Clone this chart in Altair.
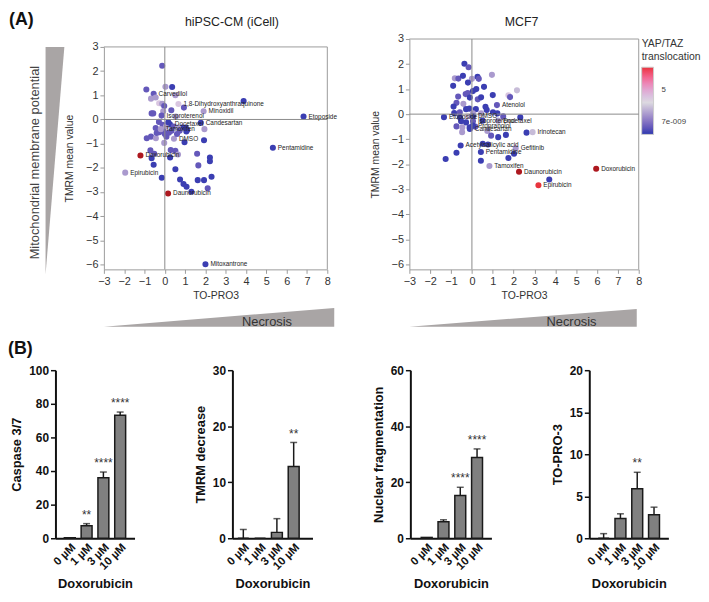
import altair as alt
import pandas as pd

FONT = "Liberation Sans"

# ---------------- (A) scatter data ----------------
# hiPSC-CM (iCell): TO-PRO3 (x), TMRM mean value (y), YAP/TAZ translocation (colour)
icell_topro = [-0.13, 0.03, 0.36, -0.91, -0.55, -0.68, -0.45, 0.52, -0.28, -0.13,
               0.67, 0.94, 3.88, -0.03, 0.32, -0.08, 1.91, -0.65, -0.57, -0.16,
               0.54, 6.83, 1.77, 0.25, 0.86, 1.95, -0.89, -0.68, -0.44, -0.40,
               0.00, 0.45, -0.03, 0.97, 1.93, -0.71, -0.65, -0.52, -1.20, 0.26,
               0.52, 0.65, 0.29, 1.59, 2.22, 2.22, -0.55, 1.65, -1.95, 0.52,
               -0.15, 0.75, 0.92, 1.07, 1.62, 1.93, 2.30, 2.11, 1.31, 0.16,
               5.32, 2.00, -0.29, -0.11, 0.05, 0.44, 0.65, 1.03, 1.10, -0.05,
               -0.27, 0.08, 1.06, 0.73, 0.33, 0.17, -0.45, 0.60, -0.20, 0.20]
icell_tmrm = [2.22, 1.35, 1.34, 1.24, 1.06, 0.86, 0.91, 1.00, 0.67, 0.65,
              0.64, 0.49, 0.76, 0.56, 0.38, 0.34, 0.34, 0.25, 0.25, 0.16,
              0.12, 0.12, -0.14, -0.20, -0.33, -0.40, -0.78, -0.71, -0.78, -0.56,
              -0.60, -0.80, -0.97, -0.94, -0.86, -1.28, -1.60, -1.42, -1.49, -1.57,
              -1.30, -1.45, -1.26, -1.42, -1.57, -1.73, -1.87, -1.90, -2.20, -2.06,
              -2.41, -2.48, -2.67, -2.78, -2.51, -2.51, -2.37, -2.85, -2.99, -3.06,
              -1.17, -5.99, -0.10, -0.22, -0.29, -0.29, -0.33, -0.33, -0.44, -0.50,
              -0.53, -0.71, -0.50, -0.47, -0.47, -0.12, -0.35, -0.60, -0.40, -0.55]
icell_yap = [-0.9, 1.2, -1.8, -0.9, -0.9, 1.2, 1.2, 1.2, 3.8, 1.2,
             3.8, -0.9, -1.8, -0.9, -0.9, 1.2, 1.2, -0.9, -0.9, -0.9,
             1.2, -1.8, -1.8, -1.8, -1.8, 1.2, -0.9, -0.9, 1.2, -0.9,
             -0.9, 1.2, 1.2, -1.8, -1.8, -0.9, -1.8, -0.9, 11.5, -1.8,
             -0.9, 1.2, -0.9, -0.9, -1.8, -1.8, -1.8, -0.9, 1.2, -1.8,
             -1.8, -1.8, -1.8, -1.8, -1.8, -1.8, -1.8, -0.9, -1.8, 11.5,
             -1.8, -1.8, -0.9, -0.9, 1.2, -0.9, 1.2, -1.8, -1.8, -0.9,
             -0.9, -0.9, -1.8, -0.9, -0.9, -1.8, -0.9, -0.9, 1.2, -0.9]
icell_name = ["", "", "", "", "Carvedilol", "", "", "", "", "",
              "1,8-Dihydroxyanthraquinone", "", "", "", "", "", "Minoxidil", "", "", "Isoproterenol",
              "", "Etoposide", "Candesartan", "Docetaxel", "", "", "", "", "", "",
              "", "DMSO", "", "", "", "", "", "", "Doxorubicin", "",
              "", "", "", "", "", "", "", "", "Epirubicin", "",
              "", "", "", "", "", "", "", "", "", "Daunorubicin",
              "Pentamidine", "Mitoxantrone", "", "", "", "", "", "", "", "",
              "", "", "", "", "", "", "", "", "Tamoxifen", ""]

# MCF7
mcf7_topro = [-0.36, -0.16, -0.82, -0.65, -0.43, 0.00, 0.27, 0.33, 0.96, -0.19,
              -0.90, -0.30, -0.20, 0.05, 0.21, 0.58, -0.66, -0.10, 0.28, 0.44,
              1.00, 1.75, 1.83, 2.16, -0.74, -0.41, -0.88, -0.28, -0.12, 0.19,
              0.65, 0.71, 1.20, -0.85, -0.58, 0.05, 0.44, 1.01, 1.22, -1.34,
              -0.57, -0.21, 0.05, 0.51, 1.26, 1.50, 2.32, -0.52, -0.28, -0.74,
              -0.46, -0.11, -0.47, 0.16, 0.74, 0.92, 1.26, 1.63, 2.62, 2.91,
              -0.54, 0.52, 0.77, -0.74, 0.43, 2.10, 2.02, 1.75, -1.26, 0.43,
              0.84, 2.26, 3.71, 3.19, 5.96, 0.05, -0.10, 0.05]
mcf7_tmrm = [2.01, 1.87, 1.43, 1.42, 1.53, 1.41, 1.49, 1.41, 1.57, 1.26,
             1.13, 0.80, 0.84, 0.92, 1.00, 1.09, 0.70, 0.66, 0.59, 0.67,
             0.76, 0.75, 0.68, 0.95, 0.45, 0.41, 0.30, 0.20, 0.22, 0.20,
             0.29, 0.17, 0.36, 0.04, 0.07, 0.03, 0.03, 0.07, 0.03, -0.12,
             -0.13, -0.09, -0.09, -0.26, -0.26, -0.09, -0.13, -0.28, -0.33, -0.49,
             -0.53, -0.53, -0.72, -0.50, -0.67, -0.86, -0.92, -0.83, -0.74, -0.72,
             -1.25, -1.18, -1.21, -1.54, -1.51, -1.36, -1.58, -1.75, -1.79, -1.86,
             -2.07, -2.30, -2.61, -2.84, -2.18, -0.28, -0.59, -0.46]
mcf7_yap = [-1.8, -0.9, 1.2, -0.9, -1.8, 1.2, -1.8, -0.9, 1.2, -1.8,
            -1.8, -0.9, -0.9, -1.8, -1.8, -1.8, -0.9, -1.8, -0.9, -1.8,
            -1.8, 3.8, -0.9, 2.2, -0.9, 1.2, -1.8, -1.8, -1.8, -1.8,
            -1.8, -1.8, -0.9, -1.8, -0.9, 1.2, 1.2, -1.8, -1.8, -1.8,
            -1.8, 3.8, -1.8, -1.8, 1.2, -0.9, -1.8, -1.8, -1.8, -0.9,
            1.2, -1.8, 1.2, -0.9, 1.2, -0.9, -1.8, -1.8, -1.8, 2.2,
            -1.8, -1.8, -1.8, -1.8, -1.8, 1.2, -1.8, -1.8, -1.8, -1.8,
            1.2, 11.5, -1.8, 8.6, 11.5, -0.9, -1.8, -1.8]
mcf7_name = ["", "", "", "", "", "", "", "", "", "",
             "", "", "", "", "", "", "", "", "", "",
             "", "", "", "", "", "", "", "", "", "",
             "", "", "Atenolol", "", "", "", "", "", "", "Etoposide",
             "", "", "DMSO", "", "Docetaxel", "", "", "", "", "",
             "", "", "", "", "", "", "", "", "", "Irinotecan",
             "Acetylsalicylic acid", "", "", "", "Pentamidine", "Gefitinib", "", "", "", "",
             "Tamoxifen", "Daunorubicin", "", "Epirubicin", "Doxorubicin", "Isoproterenol", "Candesartan", "Propranolol"]

# colour scale of the YAP/TAZ translocation legend
yap_domain = [-2.03, 3.0, 8.6]
yap_range = ["#2c38b0", "#dcd9e0", "#e8343d"]
yap_high_domain = [8.6, 12.0]
yap_high_range = ["#e8343d", "#a3121a"]

# ---------------- (B) bar data ----------------
doses = ["0 µM", "1 µM", "3 µM", "10 µM"]
caspase_mean = [0.3, 7.4, 36.0, 73.2]
caspase_err = [0.0, 1.3, 3.4, 1.9]
caspase_sig = ["", "**", "****", "****"]
tmrm_mean = [0.0, 0.0, 1.05, 12.8]
tmrm_err = [1.57, 0.0, 2.45, 4.3]
tmrm_sig = ["", "", "", "**"]
nuc_mean = [0.3, 5.9, 15.3, 28.8]
nuc_err = [0.0, 0.7, 2.9, 3.1]
nuc_sig = ["", "", "****", "****"]
topro_mean = [0.0, 2.36, 5.9, 2.8]
topro_err = [0.55, 0.55, 1.95, 0.9]
topro_sig = ["", "", "**", ""]

ramp = [0.0, 1.0]          # wedge ramps (0 = low, 1 = high)
WEDGE = "#a9a5a5"
FRAME = "#9b9b9b"
BAR_H = 170
NO_VIEW = alt.ViewBackground(strokeOpacity=0, fillOpacity=0)


def text_at(s, x, y, size, weight="normal", color="#222", align="left", baseline="alphabetic", angle=0):
    return alt.Chart(pd.DataFrame({"s": [s]})).mark_text(
        align=align, baseline=baseline, font=FONT, fontSize=size, fontWeight=weight,
        color=color, angle=angle).encode(x=alt.value(x), y=alt.value(y), text="s:N")


def scatter_core(xs, ys, yaps, names, height, y_top, legend):
    df = pd.DataFrame({"x": xs, "y": ys, "yap": yaps, "name": names})
    ax = dict(grid=False, domainColor=FRAME, tickColor=FRAME, tickSize=4,
              labelFont=FONT, labelFontSize=11, labelColor="#333", labelPadding=2,
              titleFont=FONT, titleFontSize=10.5, titleFontWeight="normal", titleColor="#333",
              labelFlush=False, labelOverlap=False)
    xv = list(range(-3, 9))
    yv = list(range(-6, 4))
    X = alt.X("x:Q", scale=alt.Scale(domain=[-3, 8], nice=False), title="TO-PRO3",
              axis=alt.Axis(values=xv, tickCount=len(xv), titlePadding=4, **ax))
    Y = alt.Y("y:Q", scale=alt.Scale(domain=[-6.2, 3], nice=False, range=[height, y_top]),
              title="TMRM mean value",
              axis=alt.Axis(values=yv, tickCount=len(yv), titlePadding=11, **ax))
    base = alt.Chart(df)
    if legend:
        leg = alt.Legend(title=["YAP/TAZ", "translocation"], values=[0, 5],
                         labelExpr="datum.value == 0 ? '7e-009' : '5'",
                         gradientLength=68, gradientThickness=12, offset=3, padding=0,
                         titleFont=FONT, titleFontSize=10.5, titleFontWeight="normal",
                         titleColor="#333", titleLineHeight=13, titlePadding=5,
                         labelFont=FONT, labelFontSize=8, labelColor="#444", labelOffset=8,
                         gradientStrokeColor="#cccccc", gradientStrokeWidth=1)
    else:
        leg = None
    pts = base.transform_filter("datum.yap <= 8.6").mark_circle(size=38, opacity=1).encode(
        x=X, y=Y,
        color=alt.Color("yap:Q", scale=alt.Scale(domain=yap_domain, range=yap_range, clamp=True), legend=leg))
    pts_hi = base.transform_filter("datum.yap > 8.6").mark_circle(size=38, opacity=1).encode(
        x=X, y=Y,
        color=alt.Color("yap:Q", scale=alt.Scale(domain=yap_high_domain, range=yap_high_range, clamp=True),
                        legend=None))
    one = alt.Chart(pd.DataFrame({"k": [0]}))
    frame_top = one.mark_rule(color=FRAME, strokeWidth=1).encode(x=alt.datum(-3), x2=alt.datum(8), y=alt.datum(3))
    frame_right = one.mark_rule(color=FRAME, strokeWidth=1).encode(x=alt.datum(8), y=alt.datum(-6.2), y2=alt.datum(3))
    vline = one.mark_rule(color="#8a8a8a", strokeWidth=1).encode(x=alt.datum(0), y=alt.datum(-6.2), y2=alt.datum(3))
    hline = one.mark_rule(color="#8a8a8a", strokeWidth=1).encode(y=alt.datum(0), x=alt.datum(-3), x2=alt.datum(8))
    txt = base.transform_filter("datum.name != ''").mark_text(
        align="left", baseline="middle", dx=5, font=FONT, fontSize=6.5, color="#222").encode(
        x=X, y=Y, text="name:N")
    return alt.layer(pts, pts_hi, frame_top, frame_right, vline, hline, txt).resolve_scale(color="independent")


def hwedge(x_range, y_range):
    sc_x = alt.Scale(domain=[0, 1], range=x_range, nice=False)
    sc_y = alt.Scale(domain=[0, 1], range=y_range, nice=False)
    return alt.Chart(pd.DataFrame({"t": ramp})).mark_area(color=WEDGE, opacity=1).encode(
        x=alt.X("t:Q", scale=sc_x, axis=None),
        y=alt.Y("t:Q", scale=sc_y, axis=None),
        y2=alt.datum(0))


def vwedge(x_range, y_range):
    sc_x = alt.Scale(domain=[0, 1], range=x_range, nice=False)
    sc_y = alt.Scale(domain=[0, 1], range=y_range, nice=False)
    return alt.Chart(pd.DataFrame({"t": ramp})).mark_area(color=WEDGE, opacity=1, orient="horizontal").encode(
        y=alt.Y("t:Q", scale=sc_y, axis=None),
        x=alt.X("t:Q", scale=sc_x, axis=None),
        x2=alt.datum(0))


# ---- left decoration: panel letter, vertical wedge and its caption
deco = alt.layer(
    vwedge([-10, 9], [238, 8]),
    text_at("(A)", -47, -14, 18, weight="bold", color="#111"),
    text_at("Mitochondrial membrane potential", -20.5, 125, 13, color="#444",
            align="center", baseline="middle", angle=270),
).properties(width=9, height=233, view=NO_VIEW)

# ---- block 1: hiPSC-CM (iCell)
core1 = alt.layer(
    scatter_core(icell_topro, icell_tmrm, icell_yap, icell_name, 233, 8, False),
    text_at("hiPSC-CM (iCell)", 129.5, -13, 12.5, align="center"),
    text_at("Necrosis", 165, 290, 13, color="#333", align="center"),
).resolve_scale(color="independent")
block1 = alt.layer(
    hwedge([0, 233], [291, 272]),
    core1,
).resolve_scale(x="independent", y="independent", color="independent").properties(
    width=226, height=233, view=NO_VIEW)

# ---- block 2: MCF7
core2 = alt.layer(
    scatter_core(mcf7_topro, mcf7_tmrm, mcf7_yap, mcf7_name, 233, 0, True),
    text_at("MCF7", 113.5, -13, 12.5, align="center"),
    text_at("Necrosis", 164, 290, 13, color="#333", align="center"),
).resolve_scale(color="independent")
block2 = alt.layer(
    hwedge([0, 230], [291, 273]),
    core2,
).resolve_scale(x="independent", y="independent", color="independent").properties(
    width=232, height=233, view=NO_VIEW)


def bar_panel(title, mean, err, sig, ymax, yvals, width, pad_outer, band_align, letter=None):
    df = pd.DataFrame({"dose": doses, "mean": mean, "err": err,
                       "top": [m + e for m, e in zip(mean, err)], "sig": sig})
    X = alt.X("dose:N", sort=doses, title="Doxorubicin",
              scale=alt.Scale(paddingInner=0.35, paddingOuter=pad_outer, align=band_align),
              axis=alt.Axis(labelAngle=-45, ticks=False, domainWidth=2, domainColor="#111",
                            labelFont=FONT, labelFontSize=11.5, labelFontWeight="bold",
                            labelColor="#111", labelPadding=3,
                            titleFont=FONT, titleFontSize=13, titleFontWeight="bold",
                            titleColor="#111", titlePadding=6))
    Y = alt.Y("mean:Q", scale=alt.Scale(domain=[0, ymax], nice=False), title=title,
              axis=alt.Axis(values=yvals, tickCount=len(yvals), grid=False, domainWidth=2,
                            domainColor="#111", tickColor="#111", tickWidth=1.5, tickSize=5,
                            labelOverlap=False,
                            labelFont=FONT, labelFontSize=12, labelFontWeight="bold",
                            labelColor="#111", labelPadding=2,
                            titleFont=FONT, titleFontSize=13, titleFontWeight="bold",
                            titleColor="#111", titlePadding=5))
    base = alt.Chart(df)
    bars = base.mark_bar(color="#808080", stroke="#1a1a1a", strokeWidth=1.5).encode(x=X, y=Y)
    rule = base.transform_filter("datum.err > 0").mark_rule(color="#1a1a1a", strokeWidth=1.5).encode(
        x=X, y="mean:Q", y2="top:Q")
    cap = base.transform_filter("datum.err > 0").mark_tick(color="#1a1a1a", thickness=1.5, size=7).encode(
        x=X, y="top:Q")
    stars = base.mark_text(dy=-9, font=FONT, fontSize=12, color="#333").encode(x=X, y="top:Q", text="sig:N")
    layers = [bars, rule, cap, stars]
    if letter:
        layers.append(text_at(letter, -48, -16, 18, weight="bold", color="#111"))
    return alt.layer(*layers).properties(width=width, height=BAR_H, view=NO_VIEW)


b1 = bar_panel("Caspase 3/7", caspase_mean, caspase_err, caspase_sig, 100, [0, 20, 40, 60, 80, 100],
               80, 0.53, 0.5, letter="(B)")
b2 = bar_panel("TMRM decrease", tmrm_mean, tmrm_err, tmrm_sig, 30, [0, 10, 20, 30], 81, 0.56, 0.29)
b3 = bar_panel("Nuclear fragmentation", nuc_mean, nuc_err, nuc_sig, 60, [0, 20, 40, 60], 82, 0.59, 0.55)
b4 = bar_panel("TO-PRO-3", topro_mean, topro_err, topro_sig, 20, [0, 5, 10, 15, 20], 80, 0.53, 0.5)

left_pair = alt.hconcat(deco, block1, spacing=0).resolve_scale(color="independent")
top_row = alt.hconcat(left_pair, block2, spacing=33).resolve_scale(color="independent")
bottom_row = alt.hconcat(b1, b2, b3, b4, spacing=60)

chart = alt.concat(top_row, bottom_row, columns=1, spacing=12, align="none").resolve_scale(
    color="independent").properties(padding=0).configure_view(stroke=None, strokeOpacity=0).configure_axis(
    labelOverlap=False).configure(font=FONT)

chart.save("out.html", embed_options={"renderer": "svg", "actions": False})
